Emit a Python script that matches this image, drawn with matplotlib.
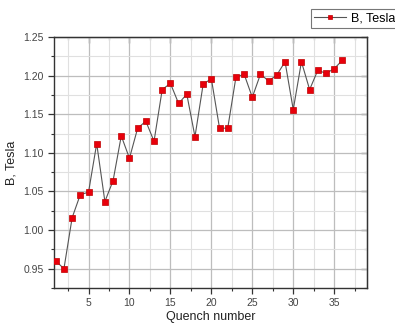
import matplotlib
matplotlib.use("Agg")
import matplotlib.pyplot as plt
from matplotlib.ticker import MultipleLocator, NullFormatter

plt.rcParams['font.family'] = ['Liberation Sans', 'DejaVu Sans']

quench = list(range(1, 37))
b_tesla = [0.960, 0.950, 1.016, 1.046, 1.049, 1.112, 1.037, 1.064, 1.122, 1.093,
           1.132, 1.141, 1.115, 1.182, 1.190, 1.164, 1.176, 1.121, 1.189, 1.196,
           1.132, 1.132, 1.198, 1.202, 1.172, 1.202, 1.193, 1.201, 1.218, 1.156,
           1.218, 1.182, 1.207, 1.203, 1.209, 1.220]
series_label = "B, Tesla"
xlabel = "Quench number"
ylabel = "B, Tesla"

fig = plt.figure(figsize=(3.95, 3.28), dpi=100)
ax = fig.add_axes([0.137, 0.122, 0.792, 0.765])

ax.plot(quench, b_tesla, color='#555555', lw=0.8, marker='s', ms=5,
        mfc='#e8000b', mec='#c00000', mew=0.5, label=series_label, zorder=3)

ax.set_xlim(0.8, 39)
ax.set_ylim(0.925, 1.25)
ax.xaxis.set_major_locator(MultipleLocator(5))
ax.xaxis.set_minor_locator(MultipleLocator(2.5))
ax.yaxis.set_major_locator(MultipleLocator(0.05))
ax.yaxis.set_minor_locator(MultipleLocator(0.025))
ax.yaxis.set_major_formatter(plt.FormatStrFormatter('%.2f'))

ax.grid(which='major', color='#bdbdbd', lw=0.9)
ax.grid(which='minor', color='#e0e0e0', lw=0.8)
ax.set_axisbelow(True)

for s in ax.spines.values():
    s.set_color('#333333')
    s.set_linewidth(1.0)

ax.tick_params(which='major', direction='out', length=4, width=0.9,
               colors='#333333', labelsize=7.5, labelcolor='#444444')
ax.tick_params(which='minor', direction='out', length=2.5, width=0.8, colors='#333333')

# inward ticks on top and right
top = ax.secondary_xaxis('top')
top.xaxis.set_major_locator(MultipleLocator(5))
top.xaxis.set_minor_locator(MultipleLocator(2.5))
top.xaxis.set_major_formatter(NullFormatter())
top.tick_params(which='major', direction='in', length=4, width=0.9, colors='#333333')
top.tick_params(which='minor', direction='in', length=2.5, width=0.8, colors='#333333')
right = ax.secondary_yaxis('right')
right.yaxis.set_major_locator(MultipleLocator(0.05))
right.yaxis.set_minor_locator(MultipleLocator(0.025))
right.yaxis.set_major_formatter(NullFormatter())
right.tick_params(which='major', direction='in', length=4, width=0.9, colors='#333333')
right.tick_params(which='minor', direction='in', length=2.5, width=0.8, colors='#333333')

ax.set_xlabel(xlabel, fontsize=9, color='#222222', labelpad=2)
ax.set_ylabel(ylabel, fontsize=9, color='#222222', labelpad=4)

leg = ax.legend(loc='upper left', bbox_to_anchor=(0.82, 1.112), fontsize=9,
                frameon=True, fancybox=False, edgecolor='#555555',
                handlelength=2.5, borderpad=0.3, handletextpad=0.4,
                markerscale=0.7, borderaxespad=0)
leg.get_frame().set_linewidth(0.8)

fig.savefig('out.png', dpi=100)
